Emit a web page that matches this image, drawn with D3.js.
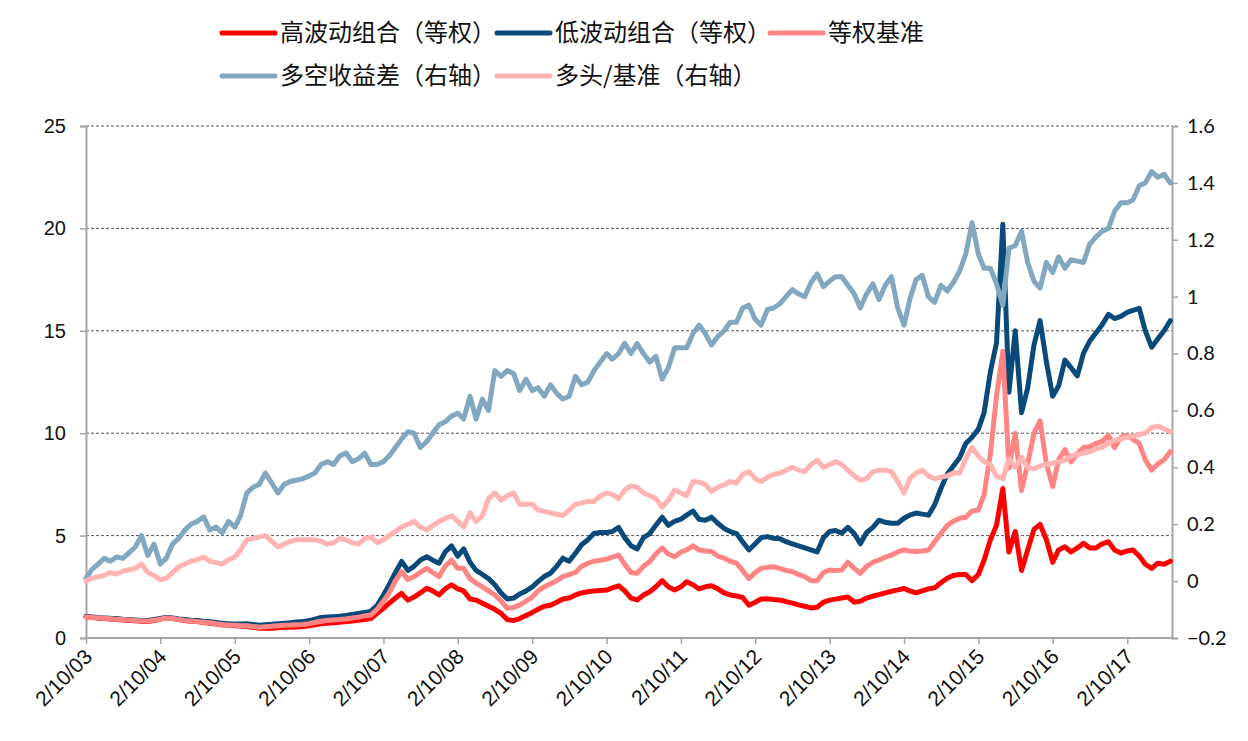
<!DOCTYPE html>
<html><head><meta charset="utf-8">
<script src="https://cdn.jsdelivr.net/npm/d3@7/dist/d3.min.js"></script>
<style>
html,body{margin:0;padding:0;background:#fff;}
svg{display:block;}
</style></head>
<body><svg id="c" width="1248" height="741"></svg>
<script>
// ---- data (monthly observations from 2/10/03) ----
const startDate = "2003-02-10";
const seriesNames = ["高波动组合（等权）","低波动组合（等权）","等权基准","多空收益差（右轴）","多头/基准（右轴）"];
const leftTicks = [0,5,10,15,20,25];
const rightTicks = [-0.2,0,0.2,0.4,0.6,0.8,1,1.2,1.4,1.6];
const xTickYears = [2003,2004,2005,2006,2007,2008,2009,2010,2011,2012,2013,2014,2015,2016,2017];

const highVol = [1.04,1.0,0.97,0.95,0.93,0.9,0.88,0.86,0.84,0.82,0.8,0.85,0.92,1.0,0.95,0.9,0.85,0.82,0.8,0.76,
0.72,0.68,0.64,0.63,0.6,0.58,0.56,0.52,0.48,0.47,0.48,0.5,0.52,0.53,0.54,0.56,0.6,0.65,0.7,0.72,
0.75,0.77,0.8,0.83,0.86,0.9,0.95,1.2,1.45,1.7,1.95,2.18,1.85,2.0,2.2,2.43,2.3,2.1,2.4,2.6,
2.4,2.3,1.9,1.85,1.7,1.55,1.4,1.2,0.9,0.85,0.95,1.1,1.25,1.4,1.55,1.6,1.75,1.9,1.95,2.1,
2.2,2.26,2.3,2.32,2.34,2.45,2.55,2.3,1.95,1.86,2.1,2.26,2.5,2.8,2.5,2.34,2.5,2.75,2.6,2.4,
2.5,2.55,2.4,2.2,2.1,2.05,1.98,1.6,1.75,1.9,1.92,1.88,1.85,1.78,1.7,1.62,1.55,1.47,1.5,1.75,
1.85,1.9,1.95,2.0,1.75,1.8,1.95,2.05,2.12,2.2,2.28,2.35,2.42,2.3,2.2,2.3,2.4,2.45,2.7,2.92,
3.05,3.1,3.1,2.8,3.1,3.8,4.8,5.5,7.3,4.2,5.2,3.3,4.3,5.3,5.55,4.8,3.7,4.3,4.45,4.2,
4.4,4.62,4.4,4.4,4.6,4.7,4.3,4.15,4.25,4.3,4.0,3.6,3.4,3.65,3.6,3.75];

const lowVol = [1.05,1.03,1.0,0.98,0.96,0.95,0.92,0.9,0.88,0.86,0.85,0.9,0.95,1.0,0.98,0.93,0.9,0.87,0.85,0.82,
0.8,0.76,0.72,0.7,0.68,0.68,0.7,0.66,0.62,0.65,0.67,0.7,0.72,0.74,0.78,0.8,0.85,0.92,1.0,1.02,
1.04,1.06,1.1,1.15,1.2,1.25,1.3,1.6,2.1,2.6,3.2,3.74,3.3,3.5,3.8,3.97,3.8,3.65,4.2,4.5,
4.0,4.35,3.7,3.3,3.1,2.9,2.6,2.2,1.9,1.95,2.15,2.3,2.5,2.75,3.0,3.16,3.5,3.9,3.75,4.14,
4.55,4.8,5.1,5.15,5.15,5.2,5.4,4.9,4.5,4.35,4.9,5.1,5.5,5.9,5.5,5.7,5.8,6.0,6.2,5.8,
5.75,5.9,5.6,5.35,5.2,5.1,4.7,4.3,4.6,4.9,4.95,4.87,4.85,4.7,4.6,4.5,4.4,4.3,4.2,4.9,
5.2,5.25,5.12,5.4,5.1,4.6,5.15,5.4,5.75,5.65,5.6,5.6,5.85,6.0,6.1,6.05,6.0,6.5,7.3,8.0,
8.4,8.8,9.5,9.8,10.2,11.0,13.0,14.4,20.2,12.0,15.0,11.0,12.2,14.3,15.5,13.5,11.8,12.3,13.57,13.2,
12.8,13.9,14.5,14.9,15.3,15.8,15.6,15.7,15.9,16.0,16.1,15.0,14.2,14.6,15.0,15.5];

const benchmark = [1.02,1.0,0.98,0.96,0.94,0.92,0.9,0.88,0.86,0.84,0.82,0.87,0.92,0.98,0.95,0.9,0.86,0.83,0.8,0.77,
0.74,0.7,0.66,0.64,0.62,0.6,0.6,0.56,0.53,0.55,0.57,0.6,0.62,0.63,0.65,0.66,0.7,0.76,0.82,0.85,
0.88,0.9,0.93,0.98,1.02,1.08,1.12,1.4,1.8,2.2,2.8,3.24,2.85,3.0,3.2,3.4,3.2,3.0,3.5,3.8,
3.4,3.4,2.9,2.68,2.5,2.3,2.1,1.8,1.45,1.5,1.6,1.8,2.0,2.3,2.5,2.65,2.8,3.0,3.1,3.2,
3.5,3.65,3.75,3.8,3.85,3.95,4.05,3.6,3.2,3.16,3.5,3.73,4.1,4.4,4.1,3.97,4.2,4.3,4.5,4.3,
4.25,4.22,4.0,3.9,3.75,3.65,3.3,2.9,3.2,3.4,3.45,3.48,3.4,3.3,3.24,3.1,3.0,2.8,2.8,3.2,
3.32,3.3,3.32,3.7,3.4,3.16,3.5,3.7,3.81,3.95,4.05,4.2,4.3,4.25,4.22,4.25,4.3,4.7,5.1,5.5,
5.7,5.85,5.9,6.2,6.25,7.0,9.0,11.8,14.0,8.3,10.0,7.2,8.5,10.0,10.6,8.5,7.4,8.7,9.2,8.6,
9.0,9.3,9.34,9.5,9.6,9.9,9.3,9.8,9.9,9.7,9.5,8.7,8.2,8.5,8.7,9.1];

const spread = [0.01,0.04,0.06,0.08,0.07,0.085,0.08,0.1,0.12,0.16,0.09,0.13,0.06,0.08,0.13,0.15,0.18,0.2,0.21,0.226,
0.18,0.19,0.17,0.21,0.19,0.23,0.31,0.33,0.34,0.38,0.345,0.31,0.34,0.35,0.355,0.36,0.37,0.38,0.41,0.42,
0.41,0.44,0.45,0.42,0.43,0.45,0.41,0.41,0.42,0.44,0.47,0.5,0.525,0.52,0.47,0.49,0.52,0.55,0.56,0.58,
0.59,0.57,0.65,0.57,0.64,0.6,0.74,0.72,0.74,0.73,0.67,0.71,0.67,0.68,0.65,0.69,0.66,0.64,0.65,0.72,
0.69,0.7,0.74,0.77,0.8,0.78,0.8,0.836,0.8,0.835,0.8,0.77,0.79,0.71,0.75,0.82,0.82,0.82,0.87,0.9,
0.87,0.83,0.86,0.88,0.91,0.91,0.96,0.97,0.92,0.9,0.955,0.96,0.975,1.0,1.025,1.01,1.0,1.05,1.08,1.035,
1.055,1.07,1.07,1.04,1.01,0.96,1.01,1.045,0.99,1.04,1.07,0.96,0.9,0.99,1.06,1.075,1.0,0.98,1.04,1.02,
1.05,1.09,1.15,1.26,1.15,1.1,1.1,1.045,0.97,1.17,1.18,1.23,1.12,1.055,1.03,1.12,1.085,1.14,1.1,1.13,
1.125,1.12,1.185,1.21,1.23,1.24,1.3,1.33,1.33,1.34,1.39,1.4,1.44,1.42,1.43,1.4];

const longBench = [0.0,0.01,0.015,0.02,0.03,0.025,0.035,0.04,0.045,0.06,0.03,0.02,0.005,0.01,0.03,0.05,0.06,0.07,0.075,0.085,
0.07,0.065,0.06,0.075,0.085,0.11,0.145,0.15,0.155,0.16,0.14,0.12,0.13,0.14,0.145,0.145,0.145,0.145,0.14,0.13,
0.135,0.15,0.145,0.135,0.13,0.15,0.155,0.135,0.145,0.16,0.175,0.19,0.2,0.21,0.19,0.18,0.195,0.21,0.22,0.23,
0.21,0.19,0.24,0.21,0.23,0.29,0.31,0.285,0.3,0.31,0.27,0.27,0.27,0.25,0.245,0.24,0.235,0.23,0.25,0.27,
0.275,0.28,0.28,0.3,0.31,0.305,0.29,0.32,0.335,0.33,0.31,0.3,0.29,0.26,0.285,0.32,0.31,0.3,0.35,0.348,
0.34,0.315,0.33,0.338,0.35,0.345,0.375,0.385,0.36,0.35,0.365,0.375,0.38,0.39,0.4,0.39,0.385,0.41,0.425,0.4,
0.41,0.42,0.41,0.39,0.37,0.355,0.36,0.385,0.39,0.39,0.385,0.35,0.31,0.36,0.38,0.39,0.37,0.36,0.365,0.37,
0.38,0.38,0.43,0.47,0.44,0.42,0.41,0.37,0.36,0.43,0.4,0.435,0.4,0.395,0.405,0.41,0.415,0.42,0.425,0.44,
0.445,0.45,0.455,0.465,0.47,0.485,0.495,0.5,0.505,0.51,0.515,0.52,0.54,0.545,0.535,0.525];

// ---- chart ----
const svg = d3.select("#c");
const M = {left:86, right:1172, top:126, bottom:638};
const parse = d3.timeParse("%Y-%m-%d");
const t0 = parse(startDate);
const dates = highVol.map((_, i) => d3.timeMonth.offset(t0, i));

const x = d3.scaleTime().domain([t0, parse("2017-09-18")]).range([M.left, M.right]);
const yL = d3.scaleLinear().domain([0,25]).range([M.bottom, M.top]);
const yR = d3.scaleLinear().domain([-0.2,1.6]).range([M.bottom, M.top]);

const axisColor = "#a6a6a6";
const latin = "'Liberation Sans', Arial, sans-serif";

// gridlines
svg.append("g").selectAll("line").data(leftTicks.filter(d => d > 0)).join("line")
  .attr("x1", M.left).attr("x2", M.right)
  .attr("y1", d => yL(d)).attr("y2", d => yL(d))
  .attr("stroke", "#555").attr("stroke-width", 1).attr("stroke-dasharray", "3,2");

// left axis
const gL = svg.append("g").attr("transform", `translate(${M.left},0)`)
  .call(d3.axisLeft(yL).tickValues(leftTicks).tickSize(6).tickPadding(14).tickFormat(d3.format("d")));
gL.select(".domain").attr("stroke", axisColor).attr("stroke-width", 2);
gL.selectAll(".tick line").attr("stroke", axisColor).attr("stroke-width", 1.5);
gL.selectAll("text").style("font-family", latin).style("font-size", "20px").attr("fill", "#111");

// right axis
const gR = svg.append("g").attr("transform", `translate(${M.right},0)`)
  .call(d3.axisRight(yR).tickValues(rightTicks).tickSize(6).tickPadding(9).tickFormat(d => d3.format("")(+d.toFixed(1))));
gR.select(".domain").attr("stroke", axisColor).attr("stroke-width", 2);
gR.selectAll(".tick line").attr("stroke", axisColor).attr("stroke-width", 1.5);
gR.selectAll("text").style("font-family", "Lato, 'Open Sans', sans-serif").style("font-size", "20px").attr("fill", "#111");

// x axis
const xTicks = xTickYears.map(yv => new Date(yv, 1, 10));
const gX = svg.append("g").attr("transform", `translate(0,${M.bottom})`)
  .call(d3.axisBottom(x).tickValues(xTicks).tickSize(6).tickFormat(d3.timeFormat("%-m/%d/%y")));
gX.select(".domain").attr("stroke", axisColor).attr("stroke-width", 2)
  .attr("d", `M${M.left},0H${M.right}`);
gX.selectAll(".tick line").attr("stroke", axisColor).attr("stroke-width", 1.5);
gX.selectAll("text").style("font-family", latin).style("font-size", "21px").attr("fill", "#111")
  .attr("text-anchor", "end").attr("dy", null).attr("y", null)
  .attr("transform", "translate(7,20) rotate(-45)");

// series
const series = [
  {name: seriesNames[0], vals: highVol,   axis: yL, color: "#ff0000"},
  {name: seriesNames[1], vals: lowVol,    axis: yL, color: "#0a4a7a"},
  {name: seriesNames[2], vals: benchmark, axis: yL, color: "#ff8585"},
  {name: seriesNames[3], vals: spread,    axis: yR, color: "#82a7c1"},
  {name: seriesNames[4], vals: longBench, axis: yR, color: "#ffb3b3"}
];
series.forEach(s => {
  const line = d3.line().x((d, i) => x(dates[i])).y(d => s.axis(d));
  svg.append("path").datum(s.vals).attr("d", line)
    .attr("fill", "none").attr("stroke", s.color).attr("stroke-width", 5)
    .attr("stroke-linejoin", "round").attr("stroke-linecap", "round");
});

// legend
const legendPos = [[222, 33], [497, 33], [770, 33], [222, 76], [497, 76]];
const lg = svg.append("g");
series.forEach((s, i) => {
  const [lx, ly] = legendPos[i];
  lg.append("line").attr("x1", lx).attr("x2", lx + 53).attr("y1", ly).attr("y2", ly)
    .attr("stroke", s.color).attr("stroke-width", 5).attr("stroke-linecap", "round");
  lg.append("text").attr("x", lx + 58).attr("y", ly).attr("dy", "0.35em")
    .style("font-family", "'Noto Sans CJK SC', sans-serif").style("font-size", "24px").attr("fill", "#111")
    .text(s.name);
});
</script>
</body></html>
